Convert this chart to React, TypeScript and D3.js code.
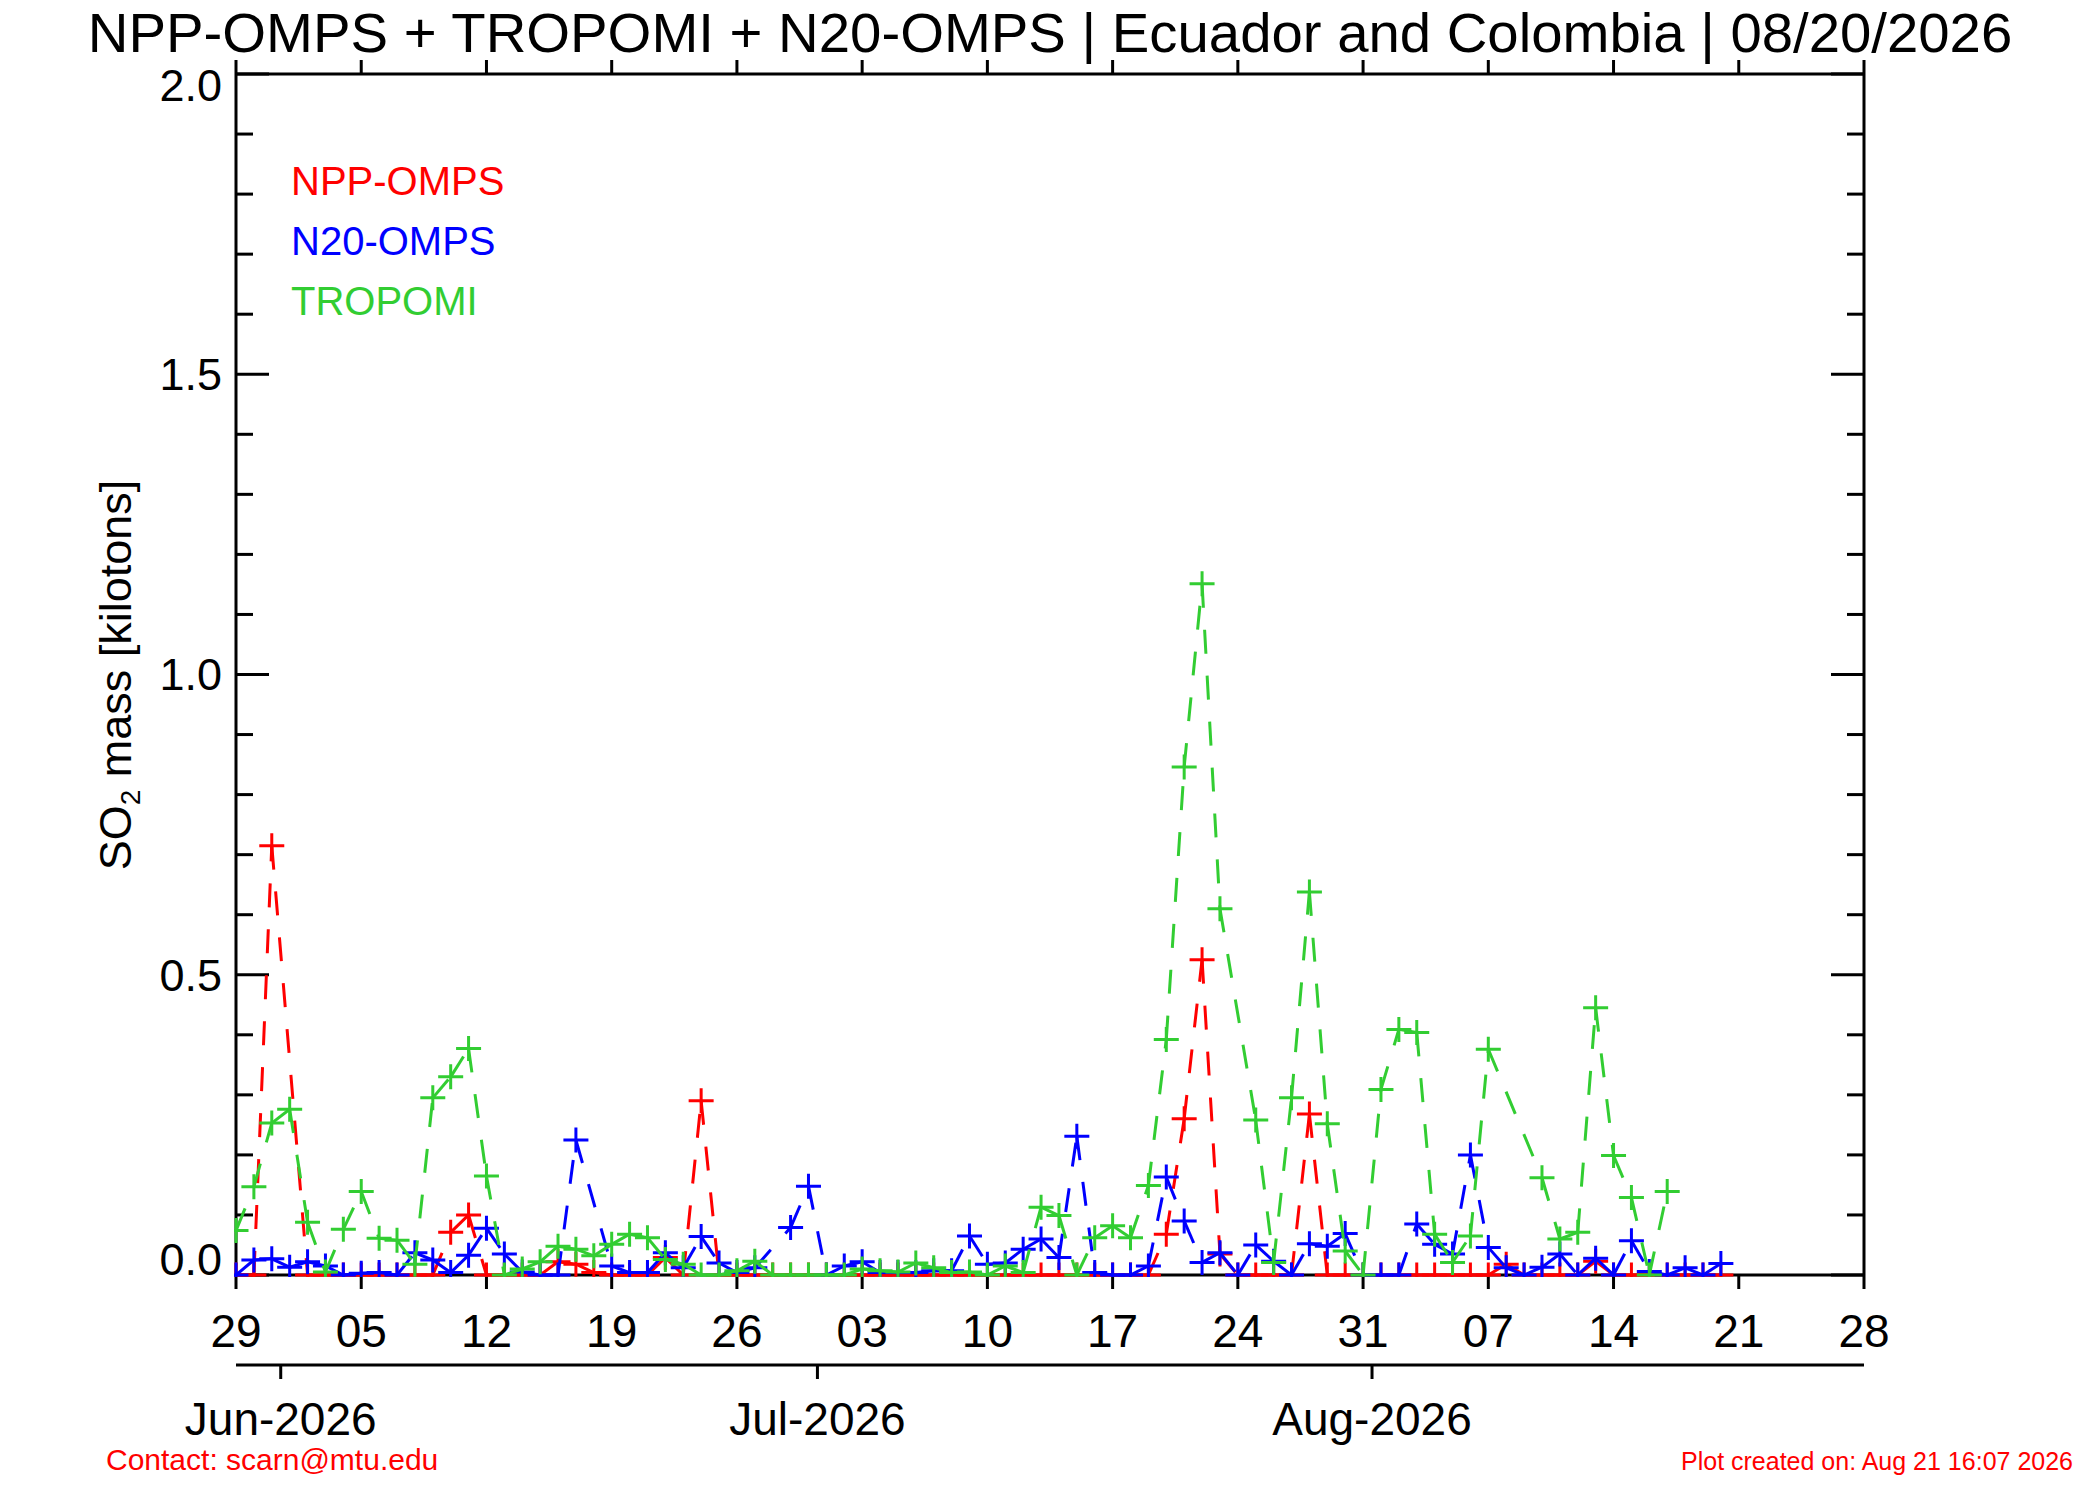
import React from 'react';
import * as d3 from 'd3';

const startDay = '2026-05-29';
const endDay = '2026-08-28';

// daily SO2 mass in kilotons, first value is 29 May 2026, null = no point that day
const nppOmps = [
    0, 0, 0.715, null, 0, 0, 0, 0, 0, 0,
    0, 0, 0.071, 0.10, 0, 0, 0, 0, 0.022, 0.018,
    0.004, 0, 0, 0, 0.029, 0, 0.29, 0, 0, 0,
    0, 0, 0, 0, 0, 0, 0, 0, 0, 0,
    0, 0, 0, 0, 0, 0, 0, 0, 0, 0,
    0, 0, 0.068, 0.26, 0.525, 0.035, 0, 0, 0, 0,
    0.268, 0, 0, 0, 0, 0, 0, 0, 0, 0,
    0, 0.018, 0, 0, 0, 0, 0.023, 0, 0, 0,
    0, 0, 0, 0,
];

const n20Omps = [
    0, 0.025, 0.027, 0.013, 0.022, 0.015, 0, 0.003, 0.004, 0,
    0.037, 0.025, 0.004, 0.033, 0.078, 0.035, 0.005, 0, 0, 0.225,
    null, 0.015, 0.004, 0.004, 0.037, 0.012, 0.064, 0.02, 0.004, 0.012,
    null, 0.079, 0.148, 0, 0.015, 0.022, 0.004, 0.004, 0.004, 0.007,
    0.007, 0.065, 0.018, 0.02, 0.043, 0.06, 0.029, 0.231, 0.004, 0,
    0, 0.015, 0.163, 0.09, 0.021, 0.037, 0, 0.05, 0.023, 0,
    0.052, 0.048, 0.069, 0, 0, 0, 0.085, 0.051, 0.035, 0.2,
    0.046, 0.012, 0, 0.013, 0.035, 0, 0.028, 0, 0.057, 0.006,
    0, 0.012, 0, 0.019,
];

const tropomi = [
    0.074, 0.147, 0.253, 0.276, 0.088, 0.005, 0.076, 0.139, 0.061, 0.058,
    0.018, 0.295, 0.33, 0.377, 0.165, 0, 0.01, 0.022, 0.048, 0.043,
    0.032, 0.051, 0.068, 0.062, 0.026, 0.018, 0, 0, 0.007, 0.023,
    0, 0, 0, 0, 0, 0.01, 0.007, 0.005, 0.02, 0.012,
    0.004, 0.005, 0, 0.015, 0.004, 0.113, 0.099, 0, 0.062, 0.082,
    0.062, 0.149, 0.392, 0.846, 1.151, 0.61, null, 0.258, 0.021, 0.295,
    0.638, 0.252, 0.04, 0, 0.309, 0.409, 0.404, 0.068, 0.021, 0.065,
    0.376, null, null, 0.162, 0.06, 0.071, 0.445, 0.199, 0.129, 0,
    0.139,
];

const seriesNames = ['NPP-OMPS', 'N20-OMPS', 'TROPOMI'];
const seriesColors = ['#ff0000', '#0000ff', '#32cd32'];
const yMajorTicks = [0, 0.5, 1.0, 1.5, 2.0];

const title = 'NPP-OMPS + TROPOMI + N20-OMPS | Ecuador and Colombia | 08/20/2026';
const contact = 'Contact: scarn@mtu.edu';
const created = 'Plot created on: Aug 21 16:07 2026';

const W = 2100;
const H = 1500;
const plot = { left: 236, right: 1864, top: 74, bottom: 1275 };
const monthAxisY = 1365;

const App: React.FC = () => {
    const parse = d3.utcParse('%Y-%m-%d');
    const t0 = parse(startDay) as Date;
    const t1 = parse(endDay) as Date;

    const x = d3.scaleUtc().domain([t0, t1]).range([plot.left, plot.right]);
    const y = d3.scaleLinear().domain([0, 2]).range([plot.bottom, plot.top]);

    const dayTicks = d3.utcDay.range(t0, d3.utcDay.offset(t1, 1), 7);
    const monthTicks = d3.utcMonth.range(d3.utcMonth.ceil(t0), t1);
    const minorTicks = y.ticks(20);
    const fmtDay = d3.utcFormat('%d');
    const fmtMonth = d3.utcFormat('%b-%Y');
    const fmtY = d3.format('.1f');
    const line = d3.line();

    const series = [nppOmps, n20Omps, tropomi].map((vals, k) => {
        const pts = vals
            .map((v, i) => (v == null ? null : [x(d3.utcDay.offset(t0, i)), y(v)] as [number, number]))
            .filter((p): p is [number, number] => p !== null);
        return { name: seriesNames[k], color: seriesColors[k], pts };
    });

    const ax = { stroke: '#000', strokeWidth: 3 };
    // the end labels sit inside the axis span, like the original plot
    const labelShift = (v: number) => (v === 2 ? 11 : v === 0 ? -16 : 0);

    return (
        <svg
            width={W}
            height={H}
            viewBox={`0 0 ${W} ${H}`}
            style={{ position: 'absolute', left: 0, top: 0, background: '#fff' }}
            fontFamily="'Liberation Sans', Arial, sans-serif"
        >
            <defs>
                <clipPath id="plotClip">
                    <rect x={plot.left - 2} y={plot.top - 2} width={plot.right - plot.left + 4} height={plot.bottom - plot.top + 4} />
                </clipPath>
            </defs>

            <text x={(plot.left + plot.right) / 2} y={52} fontSize={56.3} textAnchor="middle">{title}</text>

            {/* frame */}
            <line x1={plot.left} x2={plot.right} y1={plot.bottom} y2={plot.bottom} {...ax} />
            <line x1={plot.left} x2={plot.right} y1={plot.top} y2={plot.top} {...ax} />
            <line x1={plot.left} x2={plot.left} y1={plot.top} y2={plot.bottom} {...ax} />
            <line x1={plot.right} x2={plot.right} y1={plot.top} y2={plot.bottom} {...ax} />

            {/* day ticks, outward on bottom and top */}
            {dayTicks.map(d => (
                <g key={+d}>
                    <line x1={x(d)} x2={x(d)} y1={plot.bottom} y2={plot.bottom + 14} {...ax} />
                    <line x1={x(d)} x2={x(d)} y1={plot.top} y2={plot.top - 14} {...ax} />
                    <text x={x(d)} y={1347} fontSize={46} textAnchor="middle">{fmtDay(d)}</text>
                </g>
            ))}

            {/* y ticks */}
            {minorTicks.map(v => {
                const major = yMajorTicks.some(m => Math.abs(m - v) < 1e-6);
                const len = major ? 33 : 17;
                return (
                    <g key={v}>
                        <line x1={plot.left} x2={plot.left + len} y1={y(v)} y2={y(v)} {...ax} />
                        <line x1={plot.right} x2={plot.right - len} y1={y(v)} y2={y(v)} {...ax} />
                    </g>
                );
            })}
            {yMajorTicks.map(v => (
                <text key={v} x={222} y={y(v) + labelShift(v)} dy="0.355em" fontSize={45} textAnchor="end">{fmtY(v)}</text>
            ))}

            <text transform={`translate(131,675) rotate(-90)`} fontSize={45} textAnchor="middle">
                SO<tspan fontSize={28} dy={9}>2</tspan><tspan dy={-9}> mass [kilotons]</tspan>
            </text>

            {/* month axis */}
            <line x1={plot.left} x2={plot.right} y1={monthAxisY} y2={monthAxisY} {...ax} />
            {monthTicks.map(m => {
                const mx = x(d3.utcHour.offset(m, -12));
                return (
                    <g key={+m}>
                        <line x1={mx} x2={mx} y1={monthAxisY} y2={monthAxisY + 14} {...ax} />
                        <text x={mx} y={1435} fontSize={46} textAnchor="middle">{fmtMonth(m)}</text>
                    </g>
                );
            })}

            {/* data */}
            <g clipPath="url(#plotClip)">
                {series.map(s => (
                    <g key={s.name} stroke={s.color} strokeWidth={3} fill="none">
                        {d3.pairs(s.pts).map(([a, b], i) => (
                            <path key={i} d={line([a, b]) ?? ''} strokeDasharray="24 22" />
                        ))}
                        {s.pts.map(([px, py], i) => (
                            <path key={'m' + i} d={`M${px - 12.5},${py}H${px + 12.5}M${px},${py - 12.5}V${py + 12.5}`} />
                        ))}
                    </g>
                ))}
            </g>

            {/* legend */}
            {series.map((s, k) => (
                <text key={s.name} x={291} y={195 + k * 60} fontSize={40} fill={s.color}>{s.name}</text>
            ))}

            <text x={106} y={1470} fontSize={30} fill="#ff0000">{contact}</text>
            <text x={2073} y={1470} fontSize={25} fill="#ff0000" textAnchor="end">{created}</text>
        </svg>
    );
};

export default App;
